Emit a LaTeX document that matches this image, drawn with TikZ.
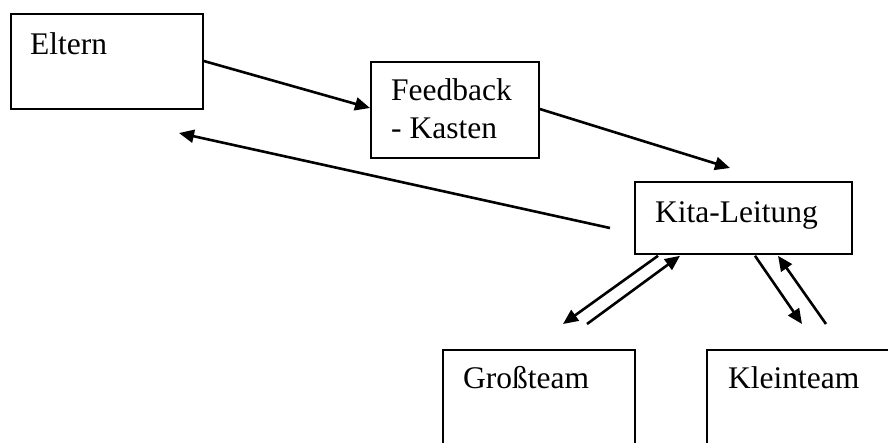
\documentclass[tikz,border=0pt]{standalone}
\usepackage{fontspec}
\setmainfont{Liberation Serif}
\usetikzlibrary{arrows.meta,calc}
\begin{document}
\begin{tikzpicture}[x=1pt,y=-1pt,
  box/.style={draw,line width=1.8pt,inner sep=0pt,anchor=north west},
  lbl/.style={anchor=base west,inner sep=0pt,font=\fontsize{31.5}{38}\selectfont},
  conn/.style={line width=2.6pt,-{Triangle[length=15pt,width=13pt]}}]
\useasboundingbox (0,0) rectangle (888,442);
\clip (0,0) rectangle (888,442);
% boxes
\node[box,minimum width=192pt,minimum height=95pt] (eltern) at (10,13) {};
\node[box,minimum width=168pt,minimum height=96pt] (feedback) at (370,61) {};
\node[box,minimum width=217pt,minimum height=72pt] (kita) at (634,181) {};
\node[box,minimum width=192pt,minimum height=120pt] (gross) at (442,349) {};
\node[box,minimum width=200pt,minimum height=120pt] (klein) at (706,349) {};
% texts
\node[lbl] (teltern) at (30,54) {Eltern};
\node[lbl] (tfb1) at (391,100) {Feedback};
\node[lbl] (tfb2) at (391,138) {- Kasten};
\node[lbl] (tkita) at (655,222) {Kita-Leitung};
\node[lbl] (tgross) at (463,388) {Großteam};
\node[lbl] (tklein) at (728,388) {Kleinteam};
% free ends
\coordinate (backstart) at (610,228);
\coordinate (backend) at (179,133);
\coordinate (gl) at (563,324);
\coordinate (gr) at (587,324);
\coordinate (kl) at (802,324);
\coordinate (kr) at (826,324);
% connectors
\draw[conn] ($(eltern.north east)+(0,48)$) -- ($(feedback.north west)+(0,47)$);
\draw[conn] ($(feedback.north east)+(0,48)$) -- ($(kita.north west)+(96,-13)$);
\draw[conn] (backstart) -- (backend);
\draw[conn] ($(kita.south west)+(24,1)$) -- (gl);
\draw[conn] (gr) -- ($(kita.south west)+(46,1)$);
\draw[conn] ($(kita.south west)+(121,1)$) -- (kl);
\draw[conn] (kr) -- ($(kita.south west)+(144,1)$);
\end{tikzpicture}
\end{document}
